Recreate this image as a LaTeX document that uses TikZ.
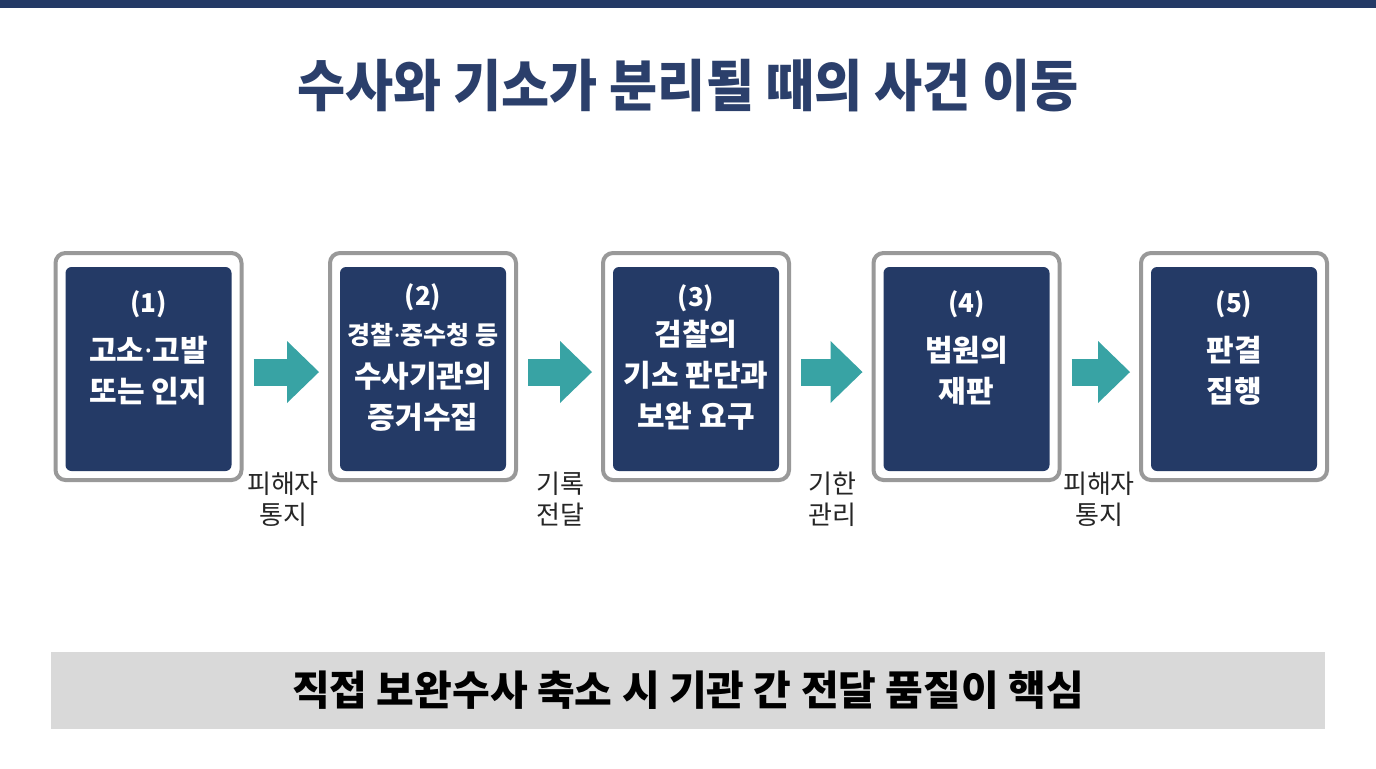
\documentclass[tikz,border=0pt]{standalone}
\usepackage{fontspec}
\setmainfont{Noto Sans CJK KR}
\newfontfamily\dotfont{Noto Sans}
\usetikzlibrary{positioning,arrows.meta,calc}

\definecolor{navy}{HTML}{243A66}
\definecolor{titleblue}{HTML}{2B3F6B}
\definecolor{framegray}{HTML}{999999}
\definecolor{flowteal}{HTML}{38A3A4}
\definecolor{bannergray}{HTML}{D9D9D9}

\newcommand{\mdot}{{\dotfont ·}}

\begin{document}
\begin{tikzpicture}[x=0.5pt,y=-0.5pt,
    frame/.style={draw=framegray, line width=2pt, fill=white, rounded corners=5pt,
        minimum width=93pt, minimum height=113.5pt},
    panel/.style={fill=navy, rounded corners=3pt, minimum width=83pt, minimum height=102pt},
    boxtext/.style={text=white, align=center, font=\bfseries\fontsize{15pt}{20.5pt}\selectfont},
    flow/.style={draw=flowteal, line width=13.5pt,
        -{Triangle[length=16pt,width=31pt,line width=0pt]}, shorten <=5pt, shorten >=4.5pt},
    note/.style={align=center, text=black!85, font=\fontsize{13pt}{15.5pt}\selectfont}]

    % Page and top bar
    \useasboundingbox (0,0) rectangle (1376,768);
    \fill[white] (0,0) rectangle (1376,768);
    \fill[navy] (0,0) rectangle (1376,8);

    % Title
    \node[text=titleblue, font=\bfseries\fontsize{28pt}{28pt}\selectfont] (title) at (688,86)
        {\scalebox{0.934}[1]{수사와 기소가 분리될 때의 사건 이동}};

    % Stage boxes
    \node[frame] (b1) at (148.5,366.5) {};
    \node[panel] (p1) at (148.5,369) {};
    \node[boxtext] (t1) at (148.5,347.5)
        {{\fontsize{13pt}{13pt}\selectfont (1)}\\[4pt] 고소\mdot 고발\\ 또는 인지};

    \node[frame] (b2) at (423,366.5) {};
    \node[panel] (p2) at (423,369) {};
    \node[boxtext] (t2) at (423,357.5)
        {{\fontsize{13pt}{13pt}\selectfont (2)}\\[-1pt]
         {\fontsize{12.5pt}{12.5pt}\selectfont 경찰\mdot 중수청 등}\\[1pt] 수사기관의\\ 증거수집};

    \node[frame] (b3) at (696,366.5) {};
    \node[panel] (p3) at (696,369) {};
    \node[boxtext] (t3) at (696,357.5)
        {{\fontsize{13pt}{13pt}\selectfont (3)}\\[-1pt] 검찰의\\ 기소 판단과\\ 보완 요구};

    \node[frame] (b4) at (966.5,366.5) {};
    \node[panel] (p4) at (966.5,369) {};
    \node[boxtext] (t4) at (966.5,347.5)
        {{\fontsize{13pt}{13pt}\selectfont (4)}\\[4pt] 법원의\\ 재판};

    \node[frame] (b5) at (1234,366.5) {};
    \node[panel] (p5) at (1234,369) {};
    \node[boxtext] (t5) at (1234,347.5)
        {{\fontsize{13pt}{13pt}\selectfont (5)}\\[4pt] 판결\\ 집행};

    % Flow arrows
    \draw[flow] ([yshift=-2.75pt]b1.east) -- ([yshift=-2.75pt]b2.west);
    \draw[flow] ([yshift=-2.75pt]b2.east) -- ([yshift=-2.75pt]b3.west);
    \draw[flow] ([yshift=-2.75pt]b3.east) -- ([yshift=-2.75pt]b4.west);
    \draw[flow] ([yshift=-2.75pt]b4.east) -- ([yshift=-2.75pt]b5.west);

    % Notes under the arrows
    \node[note] (n1) at (283,499) {피해자\\통지};
    \node[note] (n2) at (560,499) {기록\\전달};
    \node[note] (n3) at (832,499) {기한\\관리};
    \node[note] (n4) at (1099,499) {피해자\\통지};

    % Bottom banner
    \node[fill=bannergray, minimum width=637pt, minimum height=38.5pt,
          font=\bfseries\fontsize{20.5pt}{20.5pt}\selectfont] (banner) at (688,690.5)
        {직접 보완수사 축소 시 기관 간 전달 품질이 핵심};
\end{tikzpicture}
\end{document}
